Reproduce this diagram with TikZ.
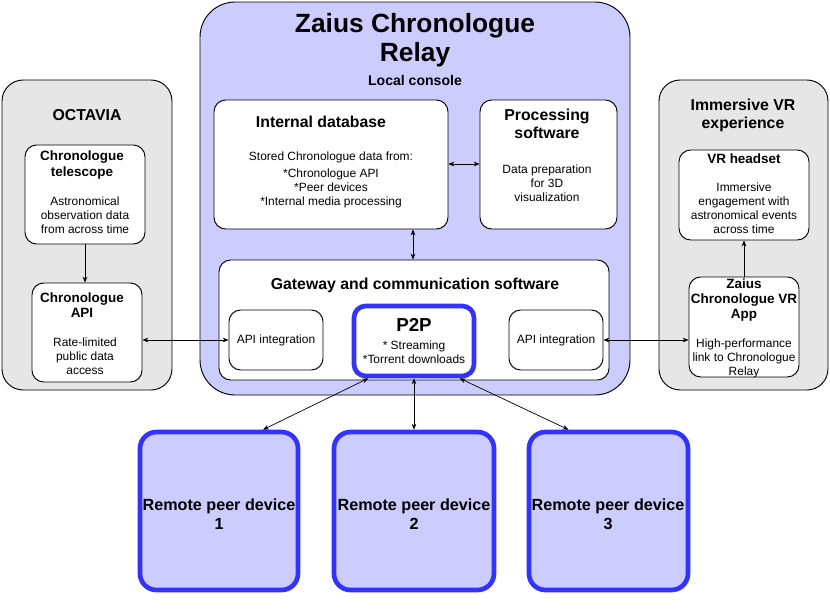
\documentclass[tikz,border=0pt]{standalone}
\usepackage{fontspec}
\setmainfont{Liberation Sans}
\usetikzlibrary{fit,arrows.meta}
\definecolor{lilac}{HTML}{CCCCFF}
\definecolor{panel}{HTML}{E6E6E6}
\definecolor{peerblue}{HTML}{3333FF}
\tikzset{
  box/.style={draw=black, line width=0.8pt, rounded corners=10pt, inner sep=0pt},
  group/.style={box, fill=panel, rounded corners=18pt},
  card/.style={box, fill=white},
  peer/.style={box, fill=lilac, draw=peerblue, line width=4pt, rounded corners=14pt},
  head/.style={font=\bfseries\fontsize{13.5}{15.5}\selectfont, align=center},
  small head/.style={font=\bfseries\fontsize{11.5}{13}\selectfont, align=center},
  body/.style={font=\fontsize{10.2}{12}\selectfont, align=center},
  link/.style={line width=0.6pt, {Stealth[length=5pt,width=4pt]}-{Stealth[length=5pt,width=4pt]}},
  onelink/.style={line width=0.6pt, -{Stealth[length=5pt,width=4pt]}}
}
\begin{document}
\begin{tikzpicture}[x=0.03cm,y=-0.03cm]
\useasboundingbox (0,0) rectangle (830,610);
% side panels
\node[group, fit={(2,80)(172,390)}] (octavia) {};
\node[head] at (87,115) {OCTAVIA};
\node[group, fit={(659,80)(828,390)}] (vr) {};
\node[head] at (743,115) {Immersive VR\\experience};
% relay
\node[box, fill=lilac, rounded corners=30pt, fit={(200,2)(630,395)}] (relay) {};
\node[font=\bfseries\fontsize{22.5}{25}\selectfont, align=center] at (415,40) {Zaius Chronologue\\Relay};
\node[small head, font=\bfseries\fontsize{12}{14}\selectfont] at (415,80) {Local console};
% octavia side
\node[card, fit={(25,145)(145,244)}] (tel) {};
\node[small head] at (82,165) {Chronologue\\telescope};
\node[body] at (85,215) {Astronomical\\observation data\\from across time};
\node[card, fit={(32,283)(142,382)}] (capi) {};
\node[small head] at (82,305) {Chronologue\\API};
\node[body] at (85,356) {Rate-limited\\public data\\access};
% database and processing
\node[card, fit={(214,100)(448,229)}] (db) {};
\node[head] at (321,122) {Internal database};
\node[body] at (331,180) {Stored Chronologue data from:\\[3pt]*Chronologue API\\*Peer devices\\*Internal media processing};
\node[card, fit={(480,100)(617,229)}] (proc) {};
\node[head] at (547,124) {Processing\\software};
\node[body] at (547,183) {Data preparation\\for 3D\\visualization};
% gateway
\node[card, fit={(219,260)(609,380)}] (gate) {};
\node[head] at (415,285) {Gateway and communication software};
\node[card, fit={(229,310)(323,370)}] (apil) {};
\node[body] at (276,340) {API integration};
\node[card, fit={(509,310)(603,370)}] (apir) {};
\node[body] at (556,340) {API integration};
\node[card, draw=peerblue, line width=4pt, fit={(354,306)(474,376)}] (p2p) {};
\node[font=\bfseries\fontsize{16}{18}\selectfont] at (414,325) {P2P};
\node[body] at (414,352) {* Streaming\\*Torrent downloads};
% vr side
\node[card, fit={(679,150)(809,240)}] (head) {};
\node[small head] at (744,159) {VR headset};
\node[body] at (744,208) {Immersive\\engagement with\\astronomical events\\across time};
\node[card, fit={(689,277)(799,377)}] (app) {};
\node[small head] at (744,300) {Zaius\\Chronologue VR\\App};
\node[body] at (744,358) {High-performance\\link to Chronologue\\Relay};
% peers
\node[peer, fit={(140,432)(298,590)}] (peer1) {};
\node[head, font=\bfseries\fontsize{13.8}{16}\selectfont] at (219,514) {Remote peer device\\1};
\node[peer, fit={(334,432)(494,590)}] (peer2) {};
\node[head, font=\bfseries\fontsize{13.8}{16}\selectfont] at (414,514) {Remote peer device\\2};
\node[peer, fit={(529,432)(688,590)}] (peer3) {};
\node[head, font=\bfseries\fontsize{13.8}{16}\selectfont] at (608,514) {Remote peer device\\3};
% connectors
\draw[onelink] (tel.south) -- (tel.south |- capi.north);
\draw[link] (capi.east |- apil.west) -- (apil.west);
\draw[link] (db.east |- 0,164) -- (proc.west |- 0,164);
\draw[link] (db.south -| 413,0) -- (gate.north -| 413,0);
\draw[link] (apir.east) -- (apir.east -| app.west);
\draw[onelink] (app.north) -- (app.north |- head.south);
\draw[link] ([xshift=0.5cm]p2p.south west) -- ([xshift=1.32cm]peer1.north);
\draw[link] (p2p.south) -- (p2p.south |- peer2.north);
\draw[link] ([xshift=-0.5cm]p2p.south east) -- ([xshift=-1.2cm]peer3.north);
\end{tikzpicture}
\end{document}
